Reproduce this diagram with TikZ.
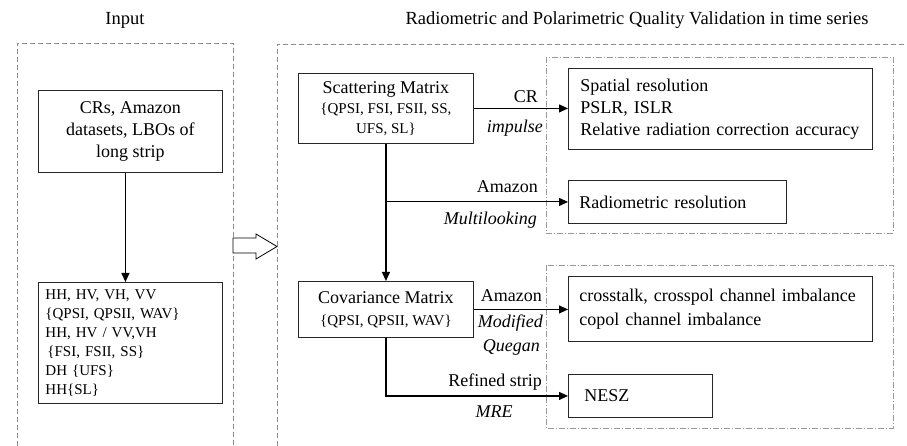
\documentclass[tikz,border=0pt]{standalone}
\usepackage{fontspec}
\setmainfont{Liberation Serif}
\usetikzlibrary{arrows.meta}
\newcommand{\bigtxt}{\fontsize{18}{22}\selectfont}
\newcommand{\smalltxt}{\fontsize{15}{19}\selectfont}
\newcommand{\headtxt}{\fontsize{18.5}{21}\selectfont}
\tikzset{
  boxNode/.style={draw=black!85,line width=0.9pt,inner sep=0pt,anchor=north west,font=\bigtxt},
  groupBox/.style={draw=black!45,line width=0.8pt,dash pattern=on 5pt off 3pt},
  subGroup/.style={draw=black!40,line width=0.8pt,dash pattern=on 6pt off 2pt on 1pt off 2pt},
  flow/.style={line width=1.1pt,-{Triangle[length=9pt,width=8pt]}},
  lbl/.style={font=\bigtxt,inner sep=0pt,anchor=east},
  ilbl/.style={lbl,font=\bigtxt\itshape}
}
\begin{document}
\begin{tikzpicture}[x=1pt,y=-1pt]
  \useasboundingbox (0,0) rectangle (907,446);
  % group frames
  \draw[groupBox] (17,446) -- (17,43) -- (233,43) -- (233,446);
  \draw[groupBox] (277,446) -- (277,44) -- (907,44);
  \draw[subGroup] (546,57) rectangle (893,233);
  \draw[subGroup] (546,265) rectangle (893,428);
  \node[font=\headtxt] (tIn) at (125,20) {Input};
  \node[font=\headtxt,anchor=west] (tVal) at (402,20) {Radiometric and Polarimetric Quality Validation in time series};
  % input side
  \node[boxNode,minimum width=184pt,minimum height=82pt,align=center] (in) at (38,90) {CRs, Amazon\\datasets, LBOs of\\long strip};
  \node[boxNode,font=\smalltxt,minimum height=121pt,align=left,text width=170pt,inner xsep=7pt] (pol) at (38,282)
    {HH, HV, VH, VV\\\{QPSI, QPSII, WAV\}\\HH, HV / VV,VH\\\hspace*{2pt}\{FSI, FSII, SS\}\\DH \{UFS\}\\HH\{SL\}};
  \draw[flow] ([xshift=-5pt]in.south) -- ([xshift=-5pt]pol.north);
  \draw[line width=0.8pt,fill=white] (233,238) -- (256,238) -- (256,234) -- (277,246.5) -- (256,259) -- (256,253) -- (233,253) -- cycle;
  % matrices
  \node[boxNode,font=\fontsize{15}{20}\selectfont,minimum width=175pt,minimum height=70pt,align=center] (sm) at (298,73)
    {{\bigtxt Scattering Matrix}\\\{QPSI, FSI, FSII, SS,\\UFS, SL\}};
  \node[boxNode,minimum width=175pt,minimum height=56pt,align=center] (cm) at (298,281)
    {Covariance Matrix\\{\smalltxt\{QPSI, QPSII, WAV\}}};
  % results
  \node[boxNode,align=left,text width=280pt,inner xsep=12pt,minimum height=81pt] (spat) at (568,68)
    {Spatial resolution\\PSLR, ISLR\\Relative radiation correction accuracy};
  \node[boxNode,align=left,text width=196pt,inner xsep=11pt,minimum height=43pt] (radio) at (568,180) {Radiometric resolution};
  \node[boxNode,align=left,text width=282pt,inner xsep=11pt,minimum height=65pt] (cross) at (568,276)
    {crosstalk, crosspol channel imbalance\\[2pt]copol channel imbalance};
  \node[boxNode,align=left,text width=112pt,inner xsep=16pt,minimum height=43pt] (nesz) at (568,374) {NESZ};
  % connectors
  \draw[flow] (sm.east) -- (sm.east -| spat.west);
  \draw[flow] (sm.south |- radio.west) -- (radio.west);
  \draw[flow] (sm.south) -- (cm.north);
  \draw[flow] (cm.east) -- (cm.east -| cross.west);
  \draw[flow] (cm.south) |- (nesz.west);
  \node[lbl] (lCR) at (538,97) {CR};
  \node[ilbl] (lImp) at (543,128) {impulse};
  \node[lbl] (lAm1) at (538,187) {Amazon};
  \node[ilbl] (lMul) at (537,220) {Multilooking};
  \node[lbl] (lAm2) at (542,296) {Amazon};
  \node[ilbl] (lMod) at (543,323) {Modified};
  \node[ilbl] (lQue) at (540,347) {Quegan};
  \node[lbl] (lRef) at (542,382) {Refined strip};
  \node[ilbl,anchor=center] (lMRE) at (494,412) {MRE};
\end{tikzpicture}
\end{document}
